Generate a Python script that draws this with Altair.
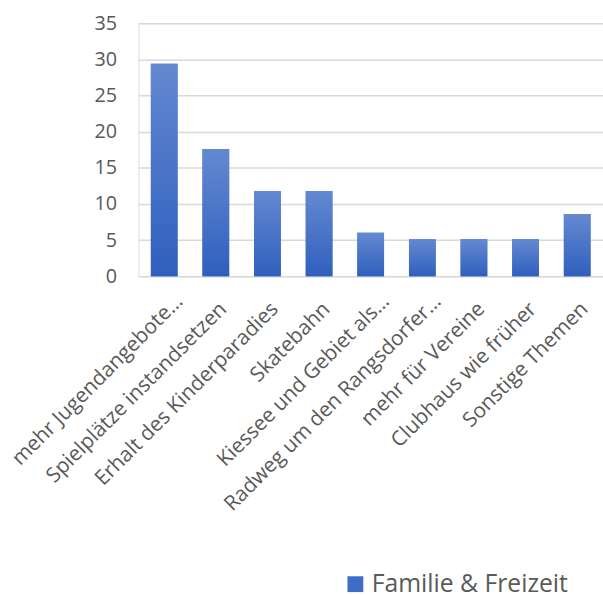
import altair as alt
import pandas as pd

categories = [
    "mehr Jugendangebote…",
    "Spielplätze instandsetzen",
    "Erhalt des Kinderparadies",
    "Skatebahn",
    "Kiessee und Gebiet als…",
    "Radweg um den Rangsdorfer…",
    "mehr für Vereine",
    "Clubhaus wie früher",
    "Sonstige Themen",
]
values = [29.4, 17.6, 11.8, 11.8, 6.0, 5.1, 5.1, 5.1, 8.6]
series = ["Familie & Freizeit"] * len(categories)

df = pd.DataFrame({"Kategorie": categories, "Wert": values, "Serie": series})

FONT = "Open Sans"
GREY = "#595959"
TRUNC = "indexof(datum.label, '…') >= 0"

x = alt.X(
    "Kategorie:N",
    sort=categories,
    scale=alt.Scale(paddingInner=0.48, paddingOuter=0.24),
    axis=alt.Axis(
        title=None,
        labelAngle=-45,
        labelAlign="right",
        labelBaseline="top",
        labelFontSize=21,
        labelFont=FONT,
        labelColor=GREY,
        labelPadding={"condition": {"test": TRUNC, "value": 14}, "value": 22},
        labelOffset={"condition": {"test": TRUNC, "value": 8}, "value": 0},
        labelLimit=400,
        ticks=False,
        domain=False,
        grid=False,
    ),
)
y = alt.Y(
    "Wert:Q",
    scale=alt.Scale(domain=[0, 35], nice=False),
    axis=alt.Axis(
        title=None,
        values=[0, 5, 10, 15, 20, 25, 30, 35],
        labelFontSize=20,
        labelFont=FONT,
        labelColor=GREY,
        labelPadding=22,
        ticks=False,
        domain=False,
        grid=True,
        gridColor="#d9d9d9",
        gridWidth=1.5,
    ),
)

base = alt.Chart(df).mark_bar(size=27).encode(
    x=x,
    y=y,
    color=alt.Color(
        "Serie:N",
        scale=alt.Scale(range=["#3f6cc6"]),
        legend=alt.Legend(
            title=None,
            orient="none",
            legendX=207,
            legendY=555,
            symbolType="square",
            symbolSize=256,
            symbolStrokeWidth=0,
            labelFontSize=25,
            labelFont=FONT,
            labelColor=GREY,
            labelOffset=4,
            labelLimit=400,
        ),
    ),
)

grad = alt.Chart(df).mark_bar(
    size=27,
    color=alt.Gradient(
        gradient="linear",
        x1=0, y1=0, x2=0, y2=1,
        stops=[
            alt.GradientStop(color="#6489d1", offset=0),
            alt.GradientStop(color="#2f5fbd", offset=1),
        ],
    ),
).encode(x=x, y=y)

chart = (
    alt.layer(base, grad)
    .properties(
        width=470,
        height=256,
        autosize=alt.AutoSizeParams(type="none"),
        padding={"left": 140, "top": 20, "right": 0, "bottom": 319},
    )
    .configure_view(stroke=None)
    .configure(background="white")
)

chart.save("out.html", embed_options={"renderer": "svg", "actions": False})
